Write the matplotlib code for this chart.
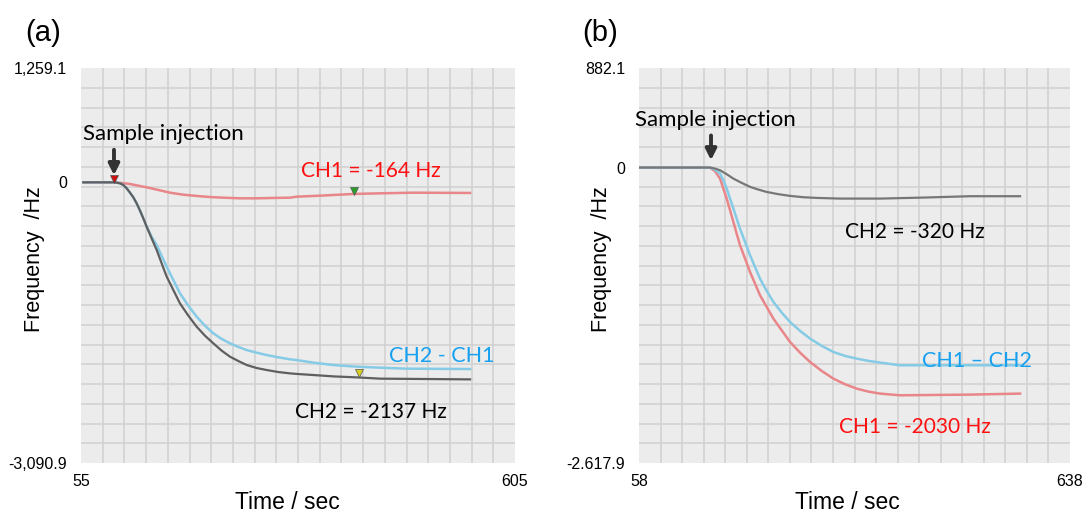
import numpy as np
import matplotlib
matplotlib.use("Agg")
from matplotlib import pyplot as plt

# panel (a) data
a_black_t = [58, 98, 104.4, 108.6, 112.9, 117.1, 121.3, 125.5, 129.8, 134, 138.2, 144.5, 150.9, 157.2,
             163.6, 172, 180.4, 191, 201.6, 212.1, 222.7, 233.3, 243.8, 254.4, 265, 277.6, 290.3, 305,
             319.9, 328.3, 349.4, 374.8, 404.4, 434, 548]
a_black = [0, 0, -11, -29, -66, -114, -165, -231, -312, -397, -488, -617, -745, -892,
           -1039, -1186, -1333, -1468, -1590, -1689, -1773, -1854, -1920, -1968, -2012, -2045, -2067, -2089,
           -2104, -2110, -2122, -2137, -2148, -2162, -2170]
a_blue_t = [58, 98, 104.4, 108.6, 112.9, 117.1, 121.3, 125.5, 129.8, 134, 138.2, 144.5, 150.9, 157.2,
            163.6, 172, 180.4, 191, 201.6, 212.1, 222.7, 233.3, 243.8, 254.4, 265, 277.6, 290.3, 305,
            319.9, 328.3, 349.4, 374.8, 404.4, 434, 467.8, 548]
a_blue = [0, 0, -11, -29, -66, -114, -165, -231, -312, -397, -488, -598, -690, -811,
          -929, -1076, -1222, -1358, -1480, -1579, -1663, -1725, -1773, -1813, -1847, -1876, -1902, -1927,
          -1949, -1957, -1986, -2012, -2030, -2041, -2052, -2056]
a_red_t = [58, 96, 106.5, 117.1, 127.6, 138.2, 153, 167.8, 184.7, 201.6, 218.5, 235.4, 256.5, 277.6,
           298.7, 319.9, 328.3, 357.9, 400.2, 434, 476.3, 548]
a_red = [0, 0, -7, -18, -37, -55, -84, -114, -136, -150, -162, -169, -176, -176,
         -172, -169, -158, -147, -128, -121, -114, -117]

# panel (b) data
b_black_t = [58, 153.6, 160.3, 167, 176, 185, 196.2, 207.4, 218.6, 229.8, 245.5, 261.2, 279.2, 297.1,
             328.5, 382.3, 440.7, 503.5, 570.8]
b_black = [0, 0, -9, -24, -59, -98, -136, -171, -195, -216, -236, -251, -263, -269,
           -275, -275, -266, -254, -254]
b_blue_t = [58, 153.6, 160.3, 167, 171.5, 176, 180.5, 185, 189.4, 193.9, 200.7, 207.4, 214.1, 220.8,
            229.8, 238.8, 250, 261.2, 274.7, 288.1, 303.8, 319.5, 335.2, 351, 366.6, 382.3, 409.3, 570.8]
b_blue = [0, 0, -18, -53, -112, -186, -275, -363, -452, -541, -659, -777, -880, -984,
          -1093, -1190, -1285, -1368, -1447, -1515, -1580, -1634, -1669, -1693, -1713, -1728, -1752, -1752]
b_red_t = [58, 153.6, 160.3, 167, 171.5, 176, 180.5, 185, 189.4, 193.9, 200.7, 207.4, 214.1, 220.8,
           229.8, 238.8, 250, 261.2, 274.7, 288.1, 303.8, 319.5, 335.2, 351, 366.6, 382.3, 409.3, 503.5, 570.8]
b_red = [0, 0, -33, -97, -186, -275, -378, -482, -585, -688, -807, -925, -1028, -1131,
         -1235, -1338, -1442, -1545, -1640, -1722, -1802, -1870, -1920, -1959, -1985, -2003, -2018, -2012, -2003]

a_xlim = (55, 605)
a_ylim = (-3090.9, 1259.1)
b_xlim = (58, 638)
b_ylim = (-2617.9, 882.1)
a_ylabels = ["-3,090.9", "0", "1,259.1"]
b_ylabels = ["-2.617.9", "0", "882.1"]

# markers in panel (a)
a_marks_t = [96.8, 401.6, 407]
a_marks_y = [36, -92, -2103]
a_marks_c = ["#d01010", "#2aa02a", "#d8d020"]

RED = "#e8868a"
BLUE = "#86cbe6"
GRAY = "#5f5f5f"
ANN = "Lato"

fig = plt.figure(figsize=(10.83, 5.12), dpi=100)
ax_a = fig.add_axes([81 / 1083, 1 - 463 / 512, 434 / 1083, 395 / 512])
ax_b = fig.add_axes([639 / 1083, 1 - 463 / 512, 431 / 1083, 395 / 512])


def style(ax, xlim, ylim, ylabels, xlab_x, ylab_x):
    ax.set_facecolor("#ececec")
    ax.set_xlim(*xlim)
    ax.set_ylim(*ylim)
    ax.set_xticks([xlim[0], xlim[1]])
    ax.set_xticklabels([str(xlim[0]), str(xlim[1])])
    ax.set_yticks([ylim[0], 0, ylim[1]])
    ax.set_yticklabels(ylabels)
    ax.set_xticks(np.linspace(xlim[0], xlim[1], 21), minor=True)
    ax.set_yticks(np.linspace(ylim[0], ylim[1], 21), minor=True)
    ax.grid(which="minor", color="#d0d0d0", lw=1.1)
    ax.tick_params(which="both", length=0)
    ax.tick_params(axis="x", pad=8, labelsize=11.5)
    ax.tick_params(axis="y", pad=10, labelsize=11.5)
    for lab in ax.get_xticklabels() + ax.get_yticklabels():
        lab.set_family("Liberation Sans")
    for s in ax.spines.values():
        s.set_visible(False)
    ax.text(xlab_x, -0.099, "Time / sec", transform=ax.transAxes, ha="center", va="center",
            fontsize=16.5, family="Liberation Sans")
    ax.text(ylab_x, 0.515, "Frequency  /Hz", transform=ax.transAxes, ha="center", va="center",
            rotation=90, fontsize=15.5, family="Liberation Sans")


style(ax_a, a_xlim, a_ylim, a_ylabels, 0.475, -0.106)
style(ax_b, b_xlim, b_ylim, b_ylabels, 0.483, -0.086)

# panel (a)
ax_a.plot(a_red_t, a_red, color=RED, lw=1.8)
ax_a.plot(a_blue_t, a_blue, color=BLUE, lw=1.8)
ax_a.plot(a_black_t, a_black, color=GRAY, lw=1.6)
for t, y, c in zip(a_marks_t, a_marks_y, a_marks_c):
    ax_a.plot(t, y, marker="v", ms=6, color=c, mec="#555555", mew=0.5)
ax_a.annotate("", xy=(96.8, 48), xytext=(96.8, 389),
              arrowprops=dict(arrowstyle="-|>", lw=2.8, color="#333333", mutation_scale=16))
ax_a.text(160, 532, "Sample injection", ha="center", va="center", fontsize=16, family=ANN)
ax_a.text(422.5, 128, "CH1 = -164 Hz", ha="center", va="center", fontsize=15, family=ANN, color="#ff1010")
ax_a.text(512, -1913, "CH2 - CH1", ha="center", va="center", fontsize=15.5, family=ANN, color="#16a0f0")
ax_a.text(422.5, -2526, "CH2 = -2137 Hz", ha="center", va="center", fontsize=15, family=ANN, color="black")

# panel (b)
ax_b.plot(b_red_t, b_red, color=RED, lw=1.8)
ax_b.plot(b_blue_t, b_blue, color=BLUE, lw=1.8)
ax_b.plot(b_black_t, b_black, color="#777777", lw=1.6)
ax_b.annotate("", xy=(154.9, 40), xytext=(154.9, 309),
              arrowprops=dict(arrowstyle="-|>", lw=2.8, color="#333333", mutation_scale=16))
ax_b.text(161, 421, "Sample injection", ha="center", va="center", fontsize=16, family=ANN)
ax_b.text(429.4, -568, "CH2 = -320 Hz", ha="center", va="center", fontsize=15, family=ANN, color="black")
ax_b.text(512.2, -1718, "CH1 \u2013 CH2", ha="center", va="center", fontsize=15.5, family=ANN, color="#16a0f0")
ax_b.text(429.4, -2296, "CH1 = -2030 Hz", ha="center", va="center", fontsize=15, family=ANN, color="#ff1010")

fig.text(43 / 1083, 1 - 33 / 512, "(a)", ha="center", va="center", fontsize=21, family="Liberation Sans")
fig.text(600 / 1083, 1 - 33 / 512, "(b)", ha="center", va="center", fontsize=21, family="Liberation Sans")

fig.savefig("out.png", dpi=100, facecolor="white")
